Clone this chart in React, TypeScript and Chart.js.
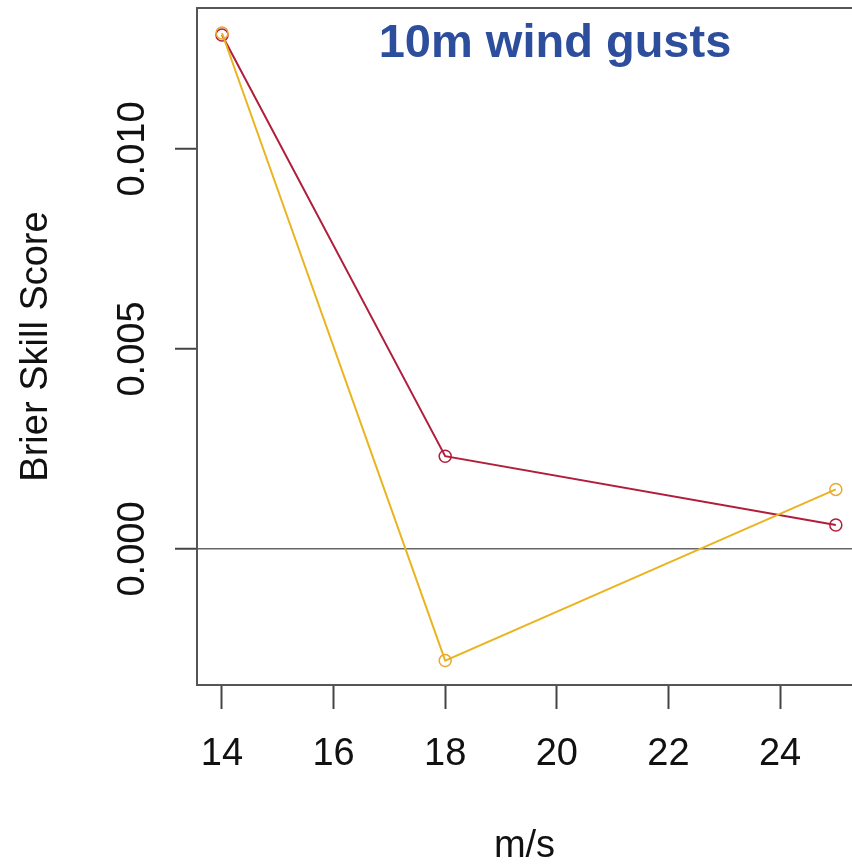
import React, { useEffect, useRef } from "react";
import { Chart, registerables } from "chart.js";

Chart.register(...registerables);

const windSpeeds = [14, 18, 25];
const redScores = [0.01285, 0.00232, 0.0006];
const yellowScores = [0.0129, -0.00279, 0.00149];
const xTickStep = 2;
const yTickStep = 0.005;
const chartTitle = "10m wind gusts";
const yAxisTitle = "Brier Skill Score";
const xAxisTitle = "m/s";

const FONT = "'Liberation Sans', Arial, Helvetica, sans-serif";

const boxPlugin = {
  id: "boxAndTitle",
  afterDatasetsDraw(chart: any) {
    const { ctx, chartArea } = chart;
    ctx.save();
    ctx.strokeStyle = "#555";
    ctx.lineWidth = 2;
    ctx.beginPath();
    ctx.moveTo(chartArea.left, chartArea.top);
    ctx.lineTo(chartArea.right + 10, chartArea.top);
    ctx.stroke();
    ctx.fillStyle = "#2D4D9D";
    ctx.font = `bold 47px ${FONT}`;
    ctx.textAlign = "center";
    ctx.textBaseline = "alphabetic";
    ctx.fillText(chartTitle, 555, 57);
    ctx.restore();
  },
};

export default function App() {
  const ref = useRef<HTMLCanvasElement | null>(null);

  useEffect(() => {
    if (!ref.current) return;
    const toPts = (vals: number[]) => vals.map((v, i) => ({ x: windSpeeds[i], y: v }));
    const zeroPadding = (scale: any) => {
      scale.paddingTop = 0;
      scale.paddingBottom = 0;
      scale.paddingLeft = 0;
      scale.paddingRight = 0;
    };
    const chart = new Chart(ref.current, {
      type: "line",
      data: {
        datasets: [
          {
            label: "yellow",
            data: toPts(yellowScores),
            borderColor: "#EAB420",
            backgroundColor: "rgba(0,0,0,0)",
            borderWidth: 2,
            pointRadius: 6,
            pointBorderWidth: 1.5,
            pointBackgroundColor: "rgba(0,0,0,0)",
            pointBorderColor: "#EAA830",
            tension: 0,
          },
          {
            label: "red",
            data: toPts(redScores),
            borderColor: "#B01E3C",
            backgroundColor: "rgba(0,0,0,0)",
            borderWidth: 2,
            pointRadius: 6,
            pointBorderWidth: 1.5,
            pointBackgroundColor: "rgba(0,0,0,0)",
            pointBorderColor: "#B01E3C",
            tension: 0,
          },
        ],
      },
      options: {
        responsive: false,
        animation: false,
        devicePixelRatio: 1,
        layout: { autoPadding: false, padding: { top: 8, left: 0, right: 0, bottom: 0 } },
        plugins: {
          legend: { display: false },
          tooltip: { enabled: false },
          title: { display: false },
        },
        scales: {
          x: {
            type: "linear",
            min: 13.552,
            max: 25.29,
            afterFit: (scale: any) => {
              scale.height = 181;
              zeroPadding(scale);
            },
            ticks: {
              stepSize: xTickStep,
              includeBounds: false,
              autoSkip: false,
              maxRotation: 0,
              minRotation: 0,
              padding: 23,
              color: "#111",
              font: { family: FONT, size: 38 },
            },
            grid: {
              drawOnChartArea: false,
              drawTicks: true,
              tickLength: 24,
              tickColor: "#444",
              tickWidth: 2,
            },
            border: { display: true, color: "#555", width: 2 },
            title: {
              display: true,
              text: xAxisTitle,
              color: "#111",
              font: { family: FONT, size: 38, lineHeight: 1 },
              padding: { top: 0, bottom: 0 },
            },
          },
          y: {
            type: "linear",
            min: -0.0034,
            max: 0.013525,
            afterFit: (scale: any) => {
              scale.width = 197;
              zeroPadding(scale);
            },
            ticks: {
              stepSize: yTickStep,
              includeBounds: false,
              minRotation: 90,
              maxRotation: 90,
              crossAlign: "center",
              padding: -6.5,
              color: "#111",
              font: { family: FONT, size: 38 },
              callback: (v: any) => Number(v).toFixed(3),
            },
            grid: {
              drawOnChartArea: true,
              drawTicks: true,
              tickLength: 22,
              tickColor: "#444",
              tickWidth: 2,
              lineWidth: 1.5,
              color: (c: any) =>
                c.tick && Math.abs(c.tick.value) < 1e-9 ? "#666" : "rgba(0,0,0,0)",
            },
            border: { display: true, color: "#555", width: 2 },
            title: {
              display: true,
              text: yAxisTitle,
              color: "#111",
              font: { family: FONT, size: 38, lineHeight: 1 },
              padding: { top: 18, bottom: 0 },
            },
          },
        },
      },
      plugins: [boxPlugin],
    } as any);
    return () => chart.destroy();
  }, []);

  return (
    <div style={{ position: "absolute", left: 0, top: 0, width: 852, height: 866, background: "#fff" }}>
      <canvas ref={ref} width={852} height={866} style={{ display: "block" }} />
    </div>
  );
}
